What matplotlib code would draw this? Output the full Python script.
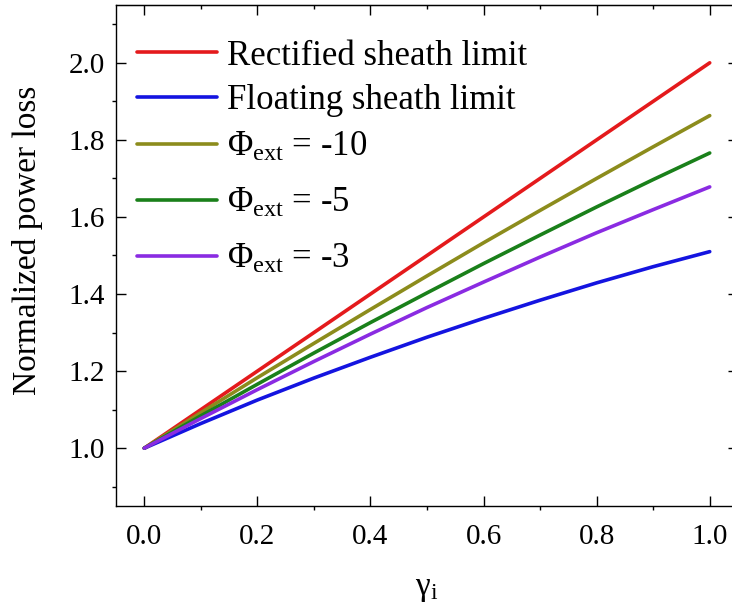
import matplotlib
matplotlib.use("Agg")
import matplotlib.pyplot as plt
from matplotlib.ticker import MultipleLocator, FormatStrFormatter

plt.rcParams['font.family'] = ['Liberation Serif', 'DejaVu Serif']
plt.rcParams['mathtext.fontset'] = 'custom'
plt.rcParams['mathtext.rm'] = 'Liberation Serif'
plt.rcParams['mathtext.it'] = 'Liberation Serif:italic'

# ion secondary emission coefficient
gamma_i = [0.0, 0.1, 0.2, 0.3, 0.4, 0.5, 0.6, 0.7, 0.8, 0.9, 1.0]

# normalized power loss for each case
rectified = [1.00, 1.10, 1.20, 1.30, 1.40, 1.50, 1.60, 1.70, 1.80, 1.90, 2.00]
floating = [1.000, 1.064, 1.125, 1.182, 1.236, 1.288, 1.337, 1.384, 1.429, 1.471, 1.510]
phi_m10 = [1.000, 1.092, 1.183, 1.272, 1.360, 1.447, 1.533, 1.617, 1.700, 1.782, 1.863]
phi_m5 = [1.000, 1.084, 1.166, 1.247, 1.326, 1.403, 1.479, 1.553, 1.626, 1.697, 1.766]
phi_m3 = [1.000, 1.077, 1.152, 1.225, 1.296, 1.365, 1.431, 1.496, 1.559, 1.619, 1.678]

series = [rectified, floating, phi_m10, phi_m5, phi_m3]
labels = ['Rectified sheath limit', 'Floating sheath limit',
          'Φ$_{\\rm ext}$ = -10', 'Φ$_{\\rm ext}$ = -5', 'Φ$_{\\rm ext}$ = -3']
colors = ['#e41a1c', '#1414e0', '#8c8c1c', '#1a801a', '#8a2be2']

fig = plt.figure(figsize=(7.32, 6.08), dpi=100)
# right side of the frame sits just past the figure edge
ax = fig.add_axes([116 / 732, 102 / 608, 622 / 732, 501 / 608])

lines = []
for y, lab, c in zip(series, labels, colors):
    ln, = ax.plot(gamma_i, y, color=c, lw=2.6, label=lab, solid_capstyle='round')
    lines.append(ln)

ax.set_xlim(-0.05, 1.05)
ax.set_ylim(0.85, 2.15)
ax.xaxis.set_major_locator(MultipleLocator(0.2))
ax.xaxis.set_minor_locator(MultipleLocator(0.1))
ax.yaxis.set_major_locator(MultipleLocator(0.2))
ax.yaxis.set_minor_locator(MultipleLocator(0.1))
ax.xaxis.set_major_formatter(FormatStrFormatter('%.1f'))
ax.yaxis.set_major_formatter(FormatStrFormatter('%.1f'))

ax.tick_params(which='major', direction='in', length=7.2, width=1.0, labelsize=21)
ax.tick_params(which='minor', direction='out', length=3.2, width=1.0)
ax.tick_params(axis='x', which='major', pad=13)
ax.tick_params(axis='y', which='major', pad=8)
for s in ax.spines.values():
    s.set_linewidth(1.0)
ax.spines['right'].set_visible(False)

top = ax.secondary_xaxis('top')
top.xaxis.set_major_locator(MultipleLocator(0.2))
top.xaxis.set_minor_locator(MultipleLocator(0.1))
top.tick_params(which='major', direction='in', length=7.2, width=1.0, labeltop=False)
top.tick_params(which='minor', direction='in', length=3.2, width=1.0)

right = ax.secondary_yaxis('right')
right.yaxis.set_major_locator(MultipleLocator(0.2))
right.yaxis.set_minor_locator(MultipleLocator(0.1))
right.tick_params(which='major', direction='in', length=7.2, width=1.0, labelright=False)
right.tick_params(which='minor', direction='in', length=3.2, width=1.0)
right.spines['right'].set_visible(False)

ax.set_xlabel('γ$_{\\rm i}$', fontsize=24)
ax.set_ylabel('Normalized power loss', fontsize=24)
ax.xaxis.set_label_coords(0.5, -0.134)
ax.yaxis.set_label_coords(-0.118, 0.53)

# the two limits and the three bias cases use different row spacing
leg_style = dict(loc='upper left', frameon=False, fontsize=25, handlelength=2.3,
                 handletextpad=0.29, borderaxespad=0, borderpad=0)
leg1 = ax.legend(handles=lines[:2], bbox_to_anchor=(0.034, 0.931),
                 labelspacing=0.32, **leg_style)
ax.add_artist(leg1)
ax.legend(handles=lines[2:], bbox_to_anchor=(0.034, 0.748),
          labelspacing=0.66, **leg_style)

fig.savefig('out.png', dpi=100)
